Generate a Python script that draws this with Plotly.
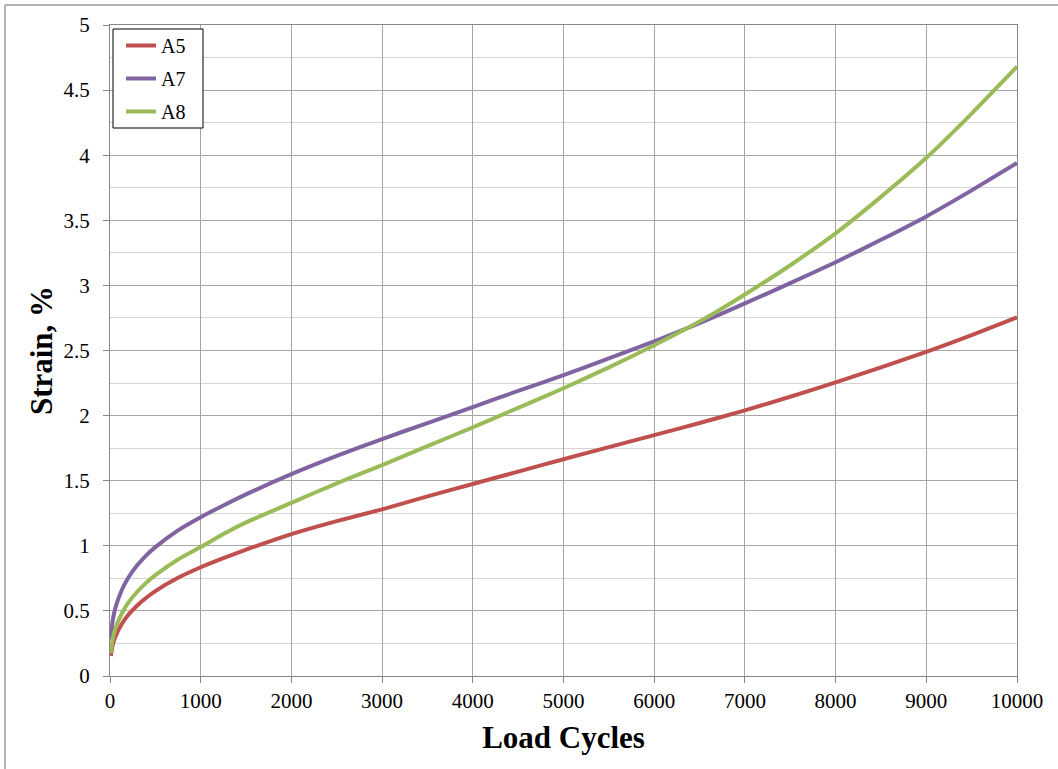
import plotly.graph_objects as go

# Load cycles at which strain was sampled
cycles = [10, 30, 60, 130, 200, 300, 400, 500, 750, 1000, 1250, 1500, 2000, 2500, 3000,
          3500, 4000, 4500, 5000, 5500, 6000, 6500, 7000, 7500, 8000, 8500, 9000, 9500, 10000]

# Permanent strain (%) for each specimen
strain_a5 = [0.155, 0.237, 0.304, 0.40, 0.468, 0.542, 0.601, 0.652, 0.754, 0.835, 0.905, 0.97,
             1.09, 1.19, 1.28, 1.38, 1.475, 1.57, 1.665, 1.758, 1.85, 1.943, 2.04, 2.145,
             2.255, 2.37, 2.49, 2.618, 2.755]
strain_a7 = [0.28, 0.427, 0.525, 0.66, 0.753, 0.85, 0.927, 0.99, 1.119, 1.22, 1.31, 1.395,
             1.55, 1.69, 1.82, 1.943, 2.065, 2.19, 2.31, 2.44, 2.57, 2.71, 2.862, 3.017,
             3.178, 3.35, 3.53, 3.73, 3.94]
strain_a8 = [0.175, 0.287, 0.366, 0.48, 0.561, 0.647, 0.717, 0.775, 0.895, 0.99, 1.09, 1.18,
             1.33, 1.48, 1.62, 1.765, 1.91, 2.06, 2.21, 2.37, 2.54, 2.722, 2.93, 3.155,
             3.40, 3.68, 3.98, 4.32, 4.68]

series = [("A5", strain_a5, "#C0504D"),
          ("A7", strain_a7, "#8064A2"),
          ("A8", strain_a8, "#9BBB59")]

FONT = "Liberation Serif"

fig = go.Figure()
for name, vals, color in series:
    fig.add_trace(go.Scatter(
        x=cycles, y=vals, name=name, mode="lines",
        line=dict(color=color, width=4, shape="spline", smoothing=0.5),
        legendgroup=name,
    ))

W, H = 1058, 769
ML, MR, MT, MB = 110, 41, 25, 93
pw, ph = W - ML - MR, H - MT - MB


def px_to_paper(px, py):
    return (px - ML) / pw, (H - MB - py) / ph


# outer chart frame (left and top edges)
x0, y0 = px_to_paper(5, 5)
x1, _ = px_to_paper(W + 5, 5)
_, y1 = px_to_paper(5, H + 5)
fig.add_shape(type="line", xref="paper", yref="paper", x0=x0, y0=y0, x1=x1, y1=y0,
              line=dict(color="#9a9a9a", width=1.5))
fig.add_shape(type="line", xref="paper", yref="paper", x0=x0, y0=y0, x1=x0, y1=y1,
              line=dict(color="#9a9a9a", width=1.5))

# legend frame
bx0, by0 = px_to_paper(113, 29)
bx1, by1 = px_to_paper(203, 128)
fig.add_shape(type="rect", xref="paper", yref="paper", x0=bx0, y0=by0, x1=bx1, y1=by1,
              line=dict(color="black", width=1), fillcolor="white", layer="above")

lx, ly = px_to_paper(121, 26)

fig.update_layout(
    width=W, height=H,
    margin=dict(l=ML, r=MR, t=MT, b=MB),
    paper_bgcolor="white", plot_bgcolor="white",
    font=dict(family=FONT, size=21, color="black"),
    showlegend=True,
    legend=dict(x=lx, y=ly, xanchor="left", yanchor="top",
                borderwidth=0, bgcolor="rgba(0,0,0,0)",
                font=dict(family=FONT, size=20, color="black"),
                tracegroupgap=4, itemwidth=30),
    xaxis=dict(
        range=[0, 10000], dtick=1000, tick0=0, tickformat="d",
        showgrid=True, gridcolor="#a6a6a6", gridwidth=1.3,
        showline=True, linecolor="#868686", linewidth=1.3, mirror=True,
        ticks="outside", ticklen=6, tickcolor="#868686",
        zeroline=False,
        tickfont=dict(family=FONT, size=21, color="black"),
        title=dict(text="<b>Load Cycles</b>", font=dict(family=FONT, size=31, color="black"),
                   standoff=13),
    ),
    yaxis=dict(
        range=[0, 5], dtick=0.5, tick0=0,
        showgrid=True, gridcolor="#a6a6a6", gridwidth=1.3,
        minor=dict(dtick=0.25, showgrid=True, gridcolor="#d4d4d4", gridwidth=1.3, ticks=""),
        showline=True, linecolor="#868686", linewidth=1.3, mirror=True,
        ticks="outside", ticklen=6, tickcolor="#868686", ticklabelstandoff=9,
        zeroline=False,
        tickfont=dict(family=FONT, size=21, color="black"),
        title=dict(text="<b>Strain, %</b>", font=dict(family=FONT, size=31, color="black"),
                   standoff=1),
    ),
)

fig.write_html("out.html")
